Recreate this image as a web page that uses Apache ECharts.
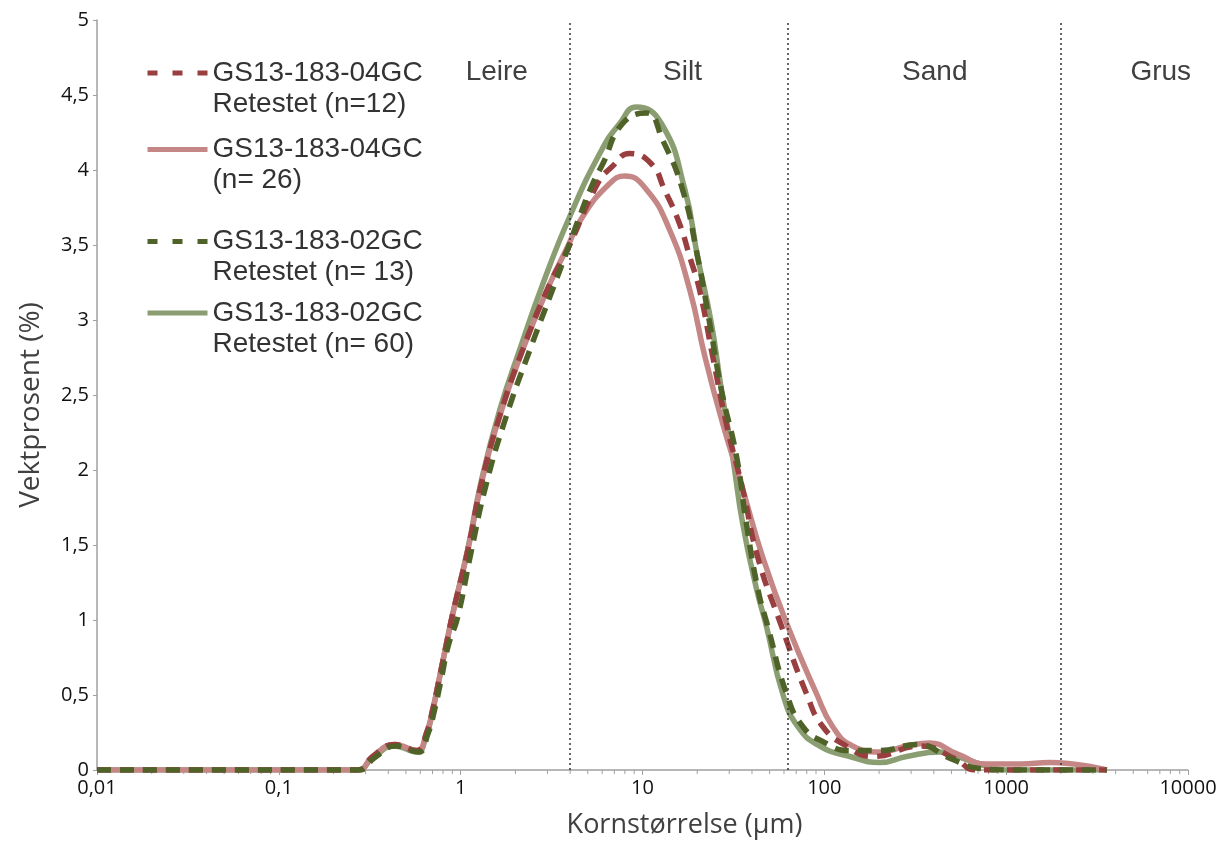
<!DOCTYPE html>
<html><head><meta charset="utf-8">
<script src="https://cdn.jsdelivr.net/npm/echarts@6/dist/echarts.min.js"></script>
<style>html,body{margin:0;padding:0;background:#fff}#c{width:1229px;height:845px}</style>
</head><body><div id="c"></div>
<script>
// ---- data ----
const seriesNames = [
  'GS13-183-04GC\nRetestet (n=12)',
  'GS13-183-04GC\n(n= 26)',
  'GS13-183-02GC\nRetestet (n= 13)',
  'GS13-183-02GC\nRetestet (n= 60)'
];
// red dashed: GS13-183-04GC Retestet (n=12)
const r04X = [0.01, 0.271, 0.328, 0.433, 0.573, 0.65, 0.701, 0.766, 0.838, 0.904, 1.097, 1.30, 1.64, 2.19, 3.09, 3.87, 5.67, 6.77, 8.5, 11.2, 13.2, 16.0, 18.2, 20.6, 24.3, 28.9, 35.6, 43.0, 58.1, 79.7, 98, 132, 185, 335, 533, 672, 1000, 3576];
const r04Y = [0, 0, 0.09, 0.17, 0.13, 0.25, 0.4, 0.62, 0.85, 1.04, 1.47, 1.91, 2.36, 2.8, 3.24, 3.47, 3.91, 4.02, 4.11, 4.04, 3.87, 3.64, 3.42, 3.2, 2.76, 2.31, 1.87, 1.42, 0.96, 0.51, 0.29, 0.16, 0.09, 0.16, 0.07, 0, 0, 0];
// pink solid: GS13-183-04GC (n= 26)
const p04X = [0.01, 0.271, 0.328, 0.433, 0.573, 0.65, 0.701, 0.766, 0.838, 0.904, 1.097, 1.30, 1.64, 2.19, 3.09, 3.81, 4.69, 6.6, 7.98, 10.5, 14.1, 18.2, 22.0, 27.6, 35.6, 45.8, 62.9, 90.5, 111, 143, 202, 283, 380, 533, 779, 1200, 1737, 3576];
const p04Y = [0, 0, 0.09, 0.17, 0.13, 0.25, 0.4, 0.62, 0.85, 1.04, 1.47, 1.91, 2.36, 2.8, 3.24, 3.47, 3.69, 3.91, 3.96, 3.87, 3.6, 3.2, 2.76, 2.31, 1.87, 1.42, 0.96, 0.51, 0.29, 0.16, 0.12, 0.16, 0.18, 0.11, 0.04, 0.04, 0.05, 0];
// green dashed: GS13-183-02GC Retestet (n= 13)
const g02rX = [0.01, 0.275, 0.335, 0.44, 0.585, 0.66, 0.715, 0.78, 0.855, 0.963, 1.14, 1.385, 1.784, 2.40, 3.29, 3.87, 4.51, 5.33, 6.04, 7.78, 10.5, 12.9, 16.6, 20.1, 23.4, 27.2, 32.9, 37.3, 43.2, 48.8, 61.9, 76.1, 98, 138, 202, 322, 508, 716, 1000, 3576];
const g02rY = [0, 0, 0.08, 0.16, 0.12, 0.24, 0.39, 0.6, 0.83, 1.02, 1.45, 1.91, 2.36, 2.8, 3.24, 3.47, 3.69, 3.91, 4.04, 4.31, 4.38, 4.2, 3.87, 3.42, 2.98, 2.53, 2.09, 1.64, 1.2, 0.96, 0.51, 0.29, 0.19, 0.13, 0.13, 0.17, 0.07, 0.01, 0, 0];
// green solid: GS13-183-02GC Retestet (n= 60)
const g02X = [0.01, 0.271, 0.328, 0.433, 0.573, 0.65, 0.701, 0.766, 0.838, 0.904, 1.097, 1.30, 1.64, 2.11, 2.83, 3.98, 5.94, 7.49, 9.25, 12.7, 17.1, 20.1, 23.9, 27.2, 31.3, 35.6, 42.5, 48.0, 59.0, 71.4, 94.3, 138, 202, 283, 431, 605, 812, 1000, 3576];
const g02Y = [0, 0, 0.08, 0.16, 0.12, 0.24, 0.39, 0.62, 0.85, 1.04, 1.48, 1.93, 2.4, 2.8, 3.24, 3.69, 4.13, 4.31, 4.42, 4.31, 3.87, 3.42, 2.98, 2.53, 2.09, 1.64, 1.2, 0.96, 0.51, 0.29, 0.16, 0.09, 0.05, 0.09, 0.12, 0.07, 0.02, 0, 0];

// class boundaries (µm) and zone labels
const boundaries = [4, 63, 2000];
const zoneNames = ['Leire', 'Silt', 'Sand', 'Grus'];
const zoneX = [1.58, 16.6, 405, 7080];
const zoneY = [4.667, 4.667, 4.667, 4.667];

const xName = 'Kornstørrelse (µm)';
const yName = 'Vektprosent (%)';

// ---- build ----
const zip = (xs, ys) => xs.map((x, i) => [x, ys[i]]);
const fmt = v => String(+(+v).toPrecision(6)).replace('.', ',');

const minorTicks = [];
for (let e = -2; e < 4; e++) for (let m = 2; m <= 9; m++) minorTicks.push([+(m * Math.pow(10, e)).toPrecision(6), 0]);

const colors = ['#9A3F40', '#C48786', '#4F6228', '#8B9E72'];
const dashed = [true, false, true, false];
const seriesData = [zip(r04X, r04Y), zip(p04X, p04Y), zip(g02rX, g02rY), zip(g02X, g02Y)];
const zOrder = [4, 2, 5, 1];

const lineSeries = seriesData.map((d, i) => ({
  name: seriesNames[i],
  type: 'line',
  data: d,
  smooth: 0.5,
  symbol: 'none',
  showSymbol: false,
  z: zOrder[i],
  lineStyle: { color: colors[i], width: 5.5, type: dashed[i] ? [14, 9] : 'solid', cap: 'butt' },
  itemStyle: { color: colors[i] },
  emphasis: { disabled: true },
  silent: true
}));

lineSeries[3].markLine = {
  silent: true,
  symbol: ['none', 'none'],
  label: { show: false },
  lineStyle: { color: '#333', type: [2, 3], width: 1.5 },
  data: boundaries.map(b => ({ xAxis: b }))
};
lineSeries[3].markPoint = {
  silent: true,
  symbol: 'circle',
  symbolSize: 1,
  itemStyle: { color: 'rgba(0,0,0,0)' },
  label: { show: true, position: 'inside', formatter: '{b}', color: '#404040', fontSize: 28, fontFamily: 'Liberation Sans', offset: [0, 2] },
  data: zoneNames.map((n, i) => ({ name: n, coord: [zoneX[i], zoneY[i]] }))
};

const tickSeries = {
  type: 'custom',
  silent: true,
  clip: false,
  data: minorTicks,
  encode: { x: 0, y: 1 },
  renderItem: (params, api) => {
    const p = api.coord([api.value(0), api.value(1)]);
    return { type: 'line', shape: { x1: p[0], y1: p[1], x2: p[0], y2: p[1] + 4 }, style: { stroke: '#A0A0A0', lineWidth: 1 } };
  }
};

const legendTops = [26.5, 103, 195, 266.5];
const legends = seriesNames.map((n, i) => ({
  data: [n],
  orient: 'vertical',
  left: 145,
  top: legendTops[i],
  padding: 0,
  itemWidth: 60,
  itemHeight: 14,
  selectedMode: false,
  formatter: s => '\n' + s,
  itemStyle: { opacity: 0, borderWidth: 0 },
  lineStyle: { width: 5, opacity: 1, type: dashed[i] ? [10, 15] : 'solid' },
  textStyle: { fontFamily: 'Liberation Sans', fontSize: 28, lineHeight: 31, color: '#333' }
}));

const option = {
  animation: false,
  backgroundColor: '#fff',
  grid: { left: 97, right: 41, top: 20, bottom: 75, containLabel: false },
  legend: legends,
  xAxis: {
    type: 'log', logBase: 10, min: 0.01, max: 10000,
    name: xName, nameLocation: 'middle', nameGap: 42,
    nameTextStyle: { fontFamily: 'Open Sans', fontSize: 27, color: '#404040', padding: [0, 0, 0, 84] },
    axisLine: { show: true, lineStyle: { color: '#A0A0A0', width: 1.5 } },
    axisTick: { show: true, length: 5, lineStyle: { color: '#A0A0A0' } },
    axisLabel: { formatter: fmt, fontFamily: 'Open Sans', fontSize: 20, color: '#111', margin: 8 },
    splitLine: { show: false }
  },
  yAxis: {
    type: 'value', min: 0, max: 5, interval: 0.5,
    name: yName, nameLocation: 'middle', nameGap: 52, nameRotate: 90,
    nameTextStyle: { fontFamily: 'Open Sans', fontSize: 28, color: '#404040', padding: [0, 20, 0, 0] },
    axisLine: { show: true, lineStyle: { color: '#A0A0A0', width: 1.5 } },
    axisTick: { show: true, length: 4, lineStyle: { color: '#A0A0A0' } },
    axisLabel: { formatter: fmt, fontFamily: 'Open Sans', fontSize: 20, color: '#111', margin: 8 },
    splitLine: { show: false }
  },
  series: [...lineSeries, tickSeries]
};

const chart = echarts.init(document.getElementById('c'));
chart.setOption(option);
</script>
</body></html>
